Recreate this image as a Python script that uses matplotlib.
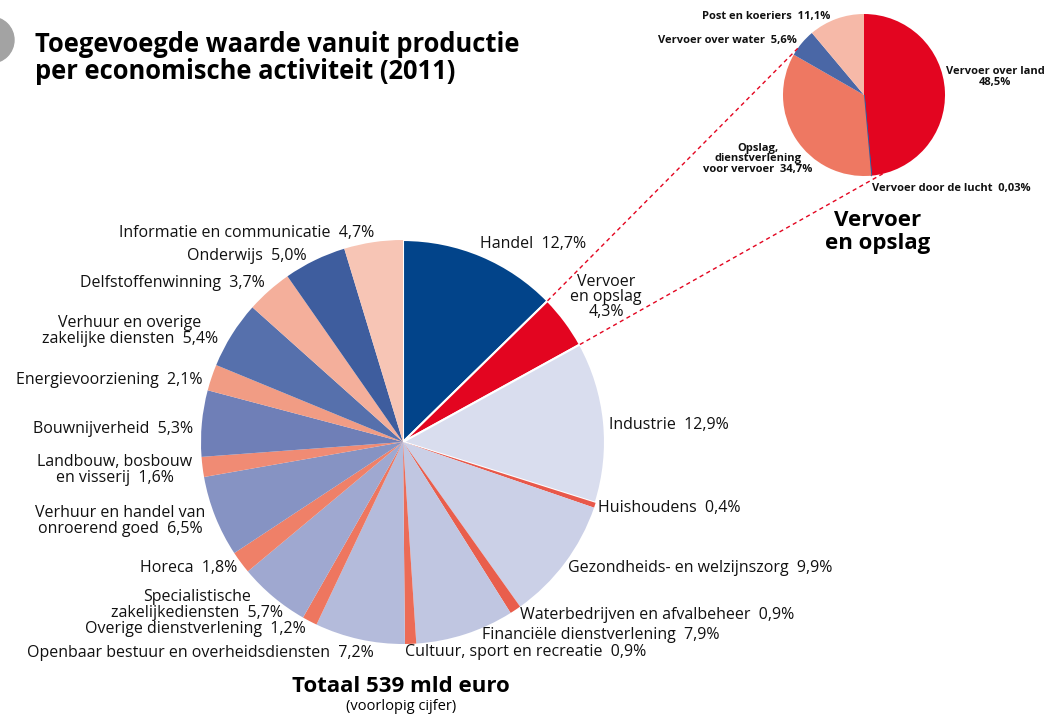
import numpy as np
import matplotlib.pyplot as plt
from matplotlib.patches import Circle

plt.rcParams['font.family'] = ['Open Sans', 'DejaVu Sans']

# main pie: clockwise from 12 o'clock
sectors = ['Handel', 'Vervoer en opslag', 'Industrie', 'Huishoudens',
           'Gezondheids- en welzijnszorg', 'Waterbedrijven en afvalbeheer',
           'Financiële dienstverlening', 'Cultuur, sport en recreatie',
           'Openbaar bestuur en overheidsdiensten', 'Overige dienstverlening',
           'Specialistische zakelijkediensten', 'Horeca',
           'Verhuur en handel van onroerend goed', 'Landbouw, bosbouw en visserij',
           'Bouwnijverheid', 'Energievoorziening',
           'Verhuur en overige zakelijke diensten', 'Delfstoffenwinning',
           'Onderwijs', 'Informatie en communicatie']
shares = [12.7, 4.3, 12.9, 0.4, 9.9, 0.9, 7.9, 0.9, 7.2, 1.2,
          5.7, 1.8, 6.5, 1.6, 5.3, 2.1, 5.4, 3.7, 5.0, 4.7]
sector_colors = ['#02448a', '#e30520', '#d9ddee', '#e8584a', '#cbd0e7', '#e95e4c',
                 '#c0c6e1', '#ec6b56', '#b4bbdb', '#ee765f', '#9fa8d0', '#ef8068',
                 '#8693c3', '#f08b74', '#6f7fb7', '#f19c84', '#5670ac', '#f4af9b',
                 '#3e5d9e', '#f7c5b5']

# detail pie for "Vervoer en opslag"
transport = ['Vervoer over land', 'Vervoer door de lucht',
             'Opslag, dienstverlening voor vervoer', 'Vervoer over water',
             'Post en koeriers']
transport_shares = [48.5, 0.03, 34.7, 5.6, 11.1]
transport_colors = ['#e30520', '#3c5a9a', '#ee7862', '#4a67a6', '#f6b9a8']

W, H = 1046, 714
fig = plt.figure(figsize=(W / 100, H / 100), dpi=100)
ax = fig.add_axes([0, 0, 1, 1])

main_c, main_r = (403, 442), 202
sub_c, sub_r = (864, 95), 81

# y axis runs downwards, so counterclock=True looks clockwise
wedges, _ = ax.pie(shares, colors=sector_colors, startangle=-90, counterclock=True,
                   center=main_c, radius=main_r,
                   wedgeprops=dict(linewidth=0, antialiased=True))
for w in wedges[:3]:
    w.set_edgecolor('white')
    w.set_linewidth(1.5)
sub_wedges, _ = ax.pie(transport_shares, colors=transport_colors, startangle=-90,
                       counterclock=True, center=sub_c, radius=sub_r,
                       wedgeprops=dict(linewidth=0))
# the air transport slice is only a hairline
sub_wedges[1].set_edgecolor(transport_colors[1])
sub_wedges[1].set_linewidth(1)

ax.set_xlim(0, W)
ax.set_ylim(H, 0)
ax.set_aspect('auto')
ax.axis('off')


def on_circle(c, r, frac):
    a = 2 * np.pi * frac
    return c[0] + r * np.sin(a), c[1] - r * np.cos(a)


# dashed links from the transport slice to the detail pie
cum = np.cumsum(shares) / sum(shares)
p1 = on_circle(main_c, main_r, cum[0])
p2 = on_circle(main_c, main_r, cum[1])
q1 = on_circle(sub_c, sub_r, 0.848)
q2 = on_circle(sub_c, sub_r, 0.463)
for p, q in [(p1, q1), (p2, q2)]:
    ax.plot([p[0], q[0]], [p[1], q[1]], color='#e30520', lw=1, ls=(0, (3, 2.5)))

ax.add_patch(Circle((-9, 40), 23, color='#a3a3a3', clip_on=True))

ax.text(35, 58, 'Toegevoegde waarde vanuit productie\nper economische activiteit (2011)',
        fontsize=18.4, fontweight='bold', va='center', ha='left', linespacing=0.98)

lab = dict(fontsize=11.5, color='#111111', va='center')
ax.text(480, 244, 'Handel  12,7%', ha='left', **lab)
ax.text(606, 297, 'Vervoer\nen opslag\n4,3%', ha='center', linespacing=0.95, **lab)
ax.text(609, 425, 'Industrie  12,9%', ha='left', **lab)
ax.text(598, 508, 'Huishoudens  0,4%', ha='left', **lab)
ax.text(568, 568, 'Gezondheids- en welzijnszorg  9,9%', ha='left', **lab)
ax.text(520, 615, 'Waterbedrijven en afvalbeheer  0,9%', ha='left', **lab)
ax.text(482, 635, 'Financiële dienstverlening  7,9%', ha='left', **lab)
ax.text(405, 652, 'Cultuur, sport en recreatie  0,9%', ha='left', **lab)
ax.text(374, 653, 'Openbaar bestuur en overheidsdiensten  7,2%', ha='right', **lab)
ax.text(306, 629, 'Overige dienstverlening  1,2%', ha='right', **lab)
ax.text(197, 605, 'Specialistische\nzakelijkediensten  5,7%', ha='center', linespacing=0.92, **lab)
ax.text(237, 568, 'Horeca  1,8%', ha='right', **lab)
ax.text(120, 521, 'Verhuur en handel van\nonroerend goed  6,5%', ha='center', linespacing=0.92, **lab)
ax.text(115, 470, 'Landbouw, bosbouw\nen visserij  1,6%', ha='center', linespacing=0.92, **lab)
ax.text(193, 429, 'Bouwnijverheid  5,3%', ha='right', **lab)
ax.text(203, 380, 'Energievoorziening  2,1%', ha='right', **lab)
ax.text(130, 331, 'Verhuur en overige\nzakelijke diensten  5,4%', ha='center', linespacing=0.92, **lab)
ax.text(265, 283, 'Delfstoffenwinning  3,7%', ha='right', **lab)
ax.text(307, 256, 'Onderwijs  5,0%', ha='right', **lab)
ax.text(374, 233, 'Informatie en communicatie  4,7%', ha='right', **lab)

ax.text(401, 686, 'Totaal 539 mld euro', ha='center', va='center', fontsize=16, fontweight='bold')
ax.text(401, 706, '(voorlopig cijfer)', ha='center', va='center', fontsize=10.5)

small = dict(fontsize=8, fontweight='bold', color='#111111', va='center')
ax.text(830, 16, 'Post en koeriers  11,1%', ha='right', **small)
ax.text(797, 41, 'Vervoer over water  5,6%', ha='right', **small)
ax.text(995, 77, 'Vervoer over land\n48,5%', ha='center', linespacing=0.95, **small)
ax.text(758, 159, 'Opslag,\ndienstverlening\nvoor vervoer  34,7%', ha='center', linespacing=0.95, **small)
ax.text(872, 189, 'Vervoer door de lucht  0,03%', ha='left', **small)
ax.text(878, 232, 'Vervoer\nen opslag', ha='center', va='center', fontsize=16,
        fontweight='bold', linespacing=1.15)

fig.savefig('out.png', dpi=100)
